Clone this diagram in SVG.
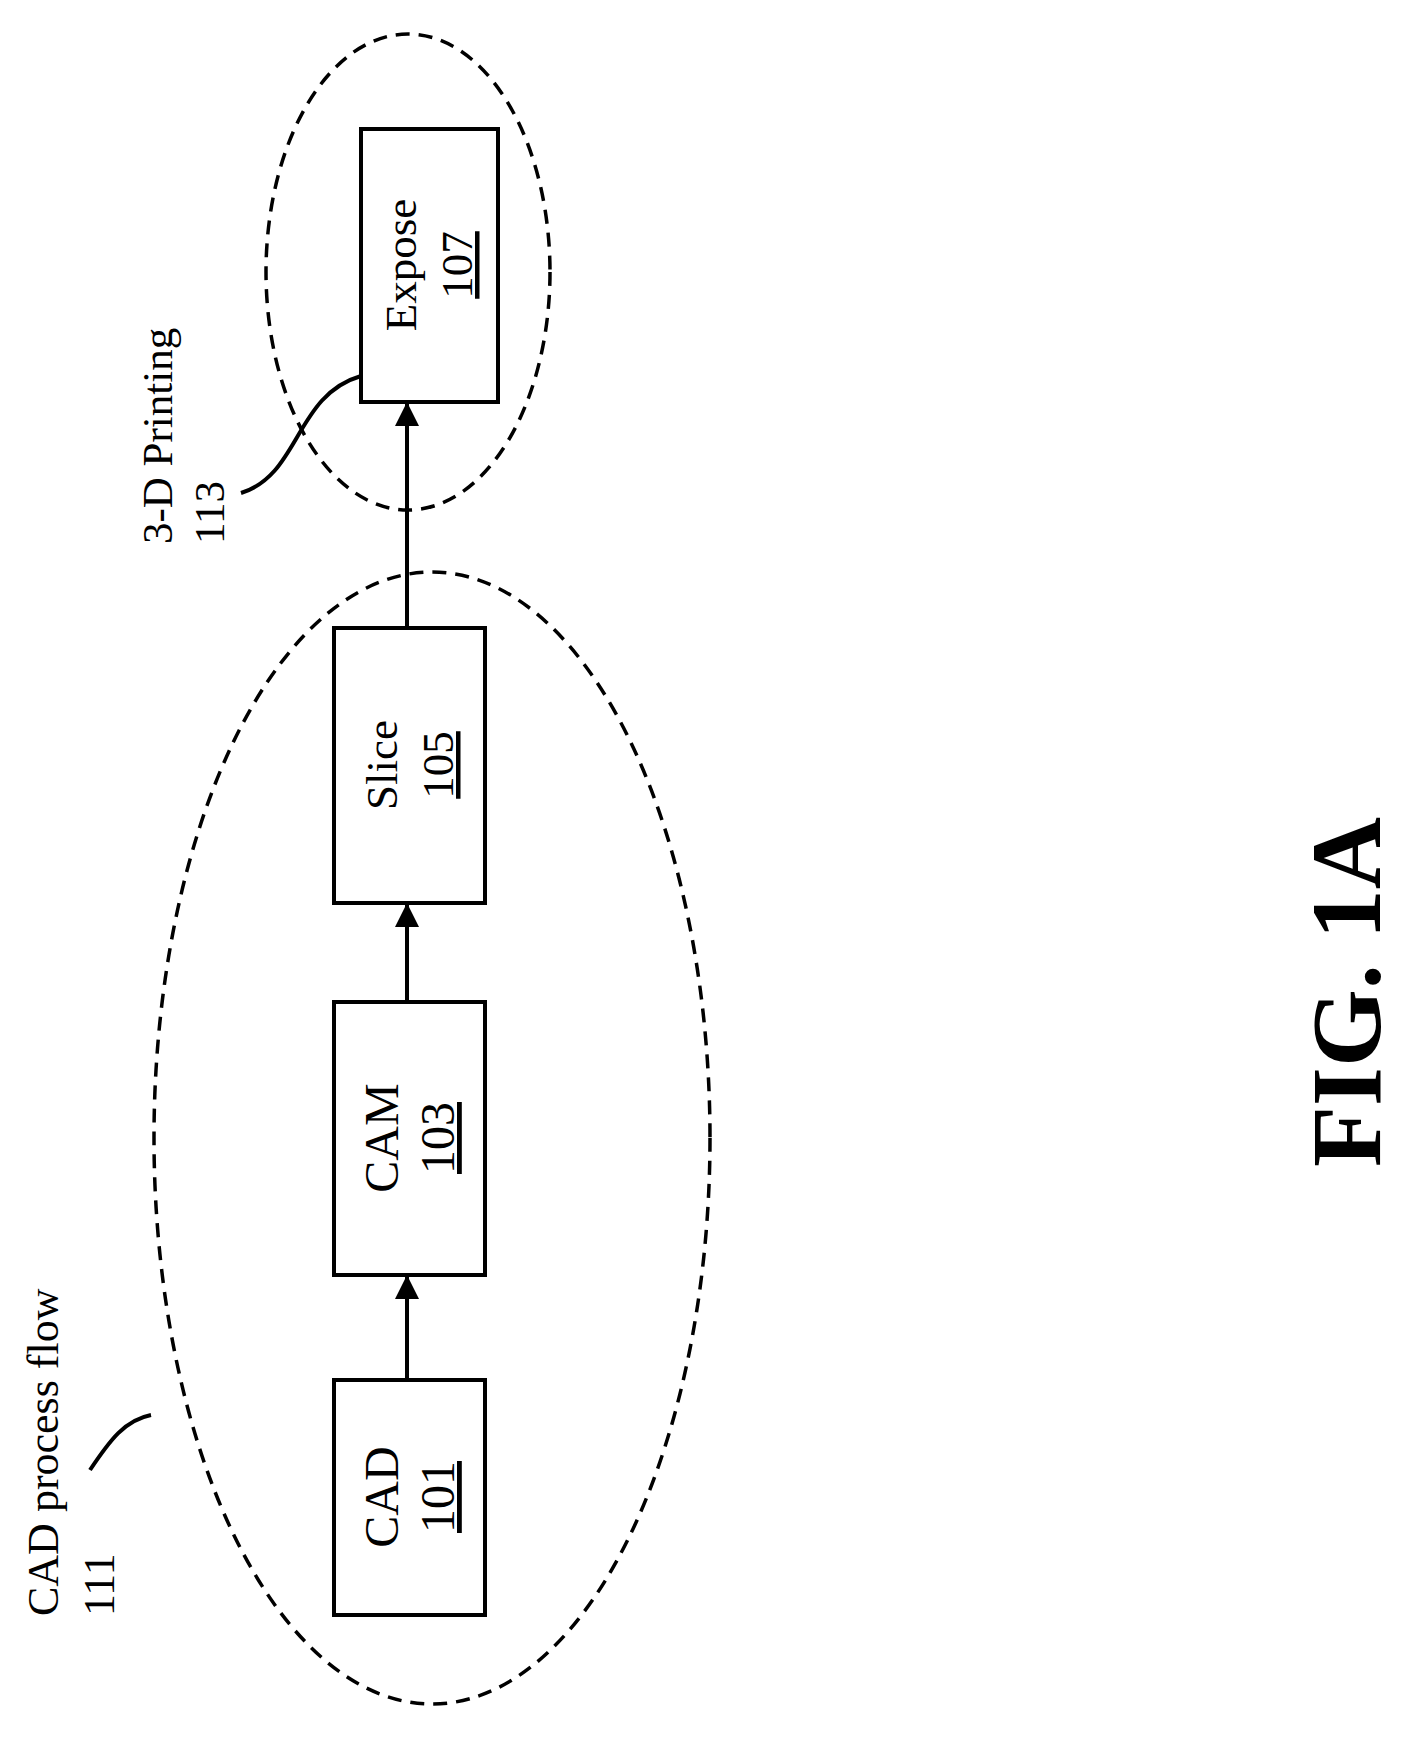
<svg xmlns="http://www.w3.org/2000/svg" width="1402" height="1755" viewBox="0 0 1402 1755">
<style>
.box{fill:#fff;stroke:#000;stroke-width:4}
.ell{fill:none;stroke:#000;stroke-width:3.5;stroke-dasharray:14 9}
.t{font-family:"Liberation Serif","Times New Roman",serif;fill:#000}
.ln{fill:none;stroke:#000;stroke-width:4}
</style>
<defs>
<marker id="a" viewBox="0 0 10 10" refX="10" refY="5" markerWidth="26" markerHeight="24" markerUnits="userSpaceOnUse" orient="auto"><path d="M0,0 L10,5 L0,10 z" fill="#000"/></marker></defs>
<g id="groups">
<ellipse class="ell" cx="432" cy="1138" rx="278" ry="566"/>
<ellipse class="ell" cx="408" cy="272" rx="142" ry="238"/>
</g>
<g id="connectors">
<line class="ln" x1="407" y1="1380" x2="407" y2="1275" marker-end="url(#a)"/>
<line class="ln" x1="407" y1="1002" x2="407" y2="903" marker-end="url(#a)"/>
<line class="ln" x1="407" y1="628" x2="407" y2="402" marker-end="url(#a)"/>
<path class="ln" d="M90,1470 C110,1440 125,1420 151,1415"/>
<path class="ln" d="M241,493 C300,475 295,395 361,376"/>
</g>
<g id="cad"><rect class="box" x="334" y="1380" width="151" height="235"/>
<text class="t" font-size="48" text-anchor="middle" transform="translate(398,1497) rotate(-90)">CAD</text>
<text class="t" font-size="48" text-anchor="middle" text-decoration="underline" transform="translate(454,1497) rotate(-90)">101</text></g>
<g id="cam"><rect class="box" x="334" y="1002" width="151" height="273"/>
<text class="t" font-size="48" text-anchor="middle" transform="translate(398,1138) rotate(-90)">CAM</text>
<text class="t" font-size="48" text-anchor="middle" text-decoration="underline" transform="translate(454,1138) rotate(-90)">103</text></g>
<g id="slice"><rect class="box" x="334" y="628" width="151" height="275"/>
<text class="t" font-size="45" text-anchor="middle" transform="translate(397,765) rotate(-90)">Slice</text>
<text class="t" font-size="45" text-anchor="middle" text-decoration="underline" transform="translate(453,765) rotate(-90)">105</text></g>
<g id="expose"><rect class="box" x="361" y="129" width="137" height="273"/>
<text class="t" font-size="45" text-anchor="middle" transform="translate(416,265) rotate(-90)">Expose</text>
<text class="t" font-size="45" text-anchor="middle" text-decoration="underline" transform="translate(472,265) rotate(-90)">107</text></g>
<g id="label111">
<text class="t" font-size="44" transform="translate(58,1616) rotate(-90)">CAD process flow</text>
<text class="t" font-size="44" transform="translate(114,1616) rotate(-90)">111</text></g>
<g id="label113">
<text class="t" font-size="43" transform="translate(172,544) rotate(-90)">3-D Printing</text>
<text class="t" font-size="43" transform="translate(224,544) rotate(-90)">113</text></g>
<text class="t" font-size="100" font-weight="bold" text-anchor="middle" transform="translate(1380,992) rotate(-90)">FIG. 1A</text>
</svg>
